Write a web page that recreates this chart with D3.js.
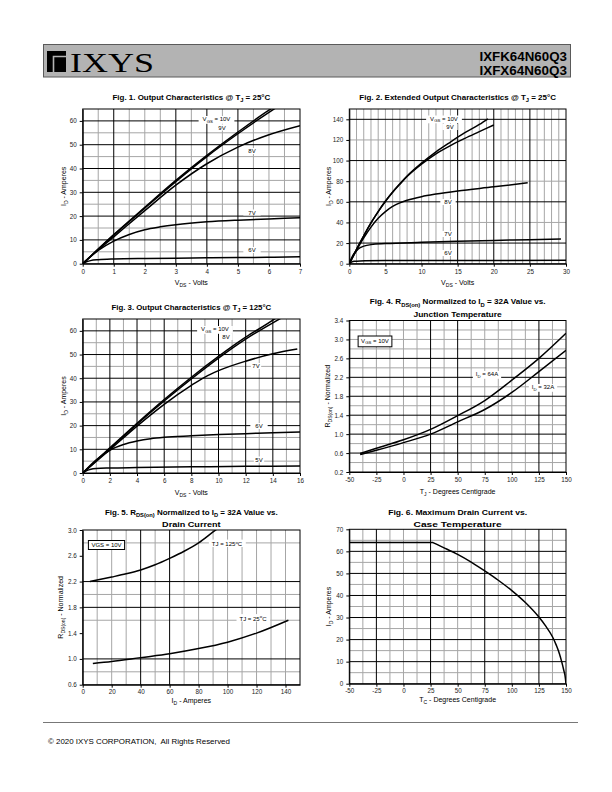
<!DOCTYPE html>
<html><head><meta charset="utf-8">
<script src="https://cdn.jsdelivr.net/npm/d3@7/dist/d3.min.js"></script>
<style>
body{margin:0;background:#fff}
svg{display:block}
text{font-family:"Liberation Sans",Arial,Helvetica,sans-serif}
</style>
</head><body>
<svg id="c" width="612" height="792"></svg>
<script>
// ---------------- DATA ----------------
// Fig 1: Output characteristics @ TJ=25C  [VDS (V), ID (A)]
const f1_vgs10 = [[0,0],[1,12.2],[2,23.7],[3,35],[4,45.5],[5,55.3],[6,64.5],[6.3,67]];
const f1_vgs9  = [[0,0],[1,12],[2,23.3],[3,34.5],[4,45],[5,54.6],[6,63.6],[6.4,67]];
const f1_vgs8  = [[0,0],[0.5,5.8],[1,11.3],[2,22.3],[3,33],[4,42],[5,49],[6,54.2],[7,58]];
const f1_vgs7  = [[0,0],[0.25,3],[0.5,5.6],[1,9.5],[1.5,12.3],[2,14.3],[2.5,15.5],[3,16.4],[4,17.6],[5,18.3],[6,18.8],[7,19.3]];
const f1_vgs6  = [[0,0],[0.1,0.7],[0.25,1.3],[0.5,1.7],[1,2],[2,2.2],[3,2.3],[4,2.45],[5,2.6],[6,2.7],[7,2.9]];
// Fig 2: Extended output characteristics @ TJ=25C
const f2_vgs10 = [[0,0],[1,14],[2,27],[3,39.5],[4,50.5],[5,60.5],[6,69.5],[7,77.5],[8,85],[10,97.5],[12,108.5],[14,118],[16,127],[18,135],[19.2,140.5]];
const f2_vgs9  = [[0,0],[1,14],[2,27],[3,39.5],[4,50.5],[5,60.5],[6,69.3],[7,77],[8,84.5],[10,96.5],[12,106.5],[14,114.5],[16,121.5],[18,128],[20,134.5]];
const f2_vgs8  = [[0,0],[1,13],[2,25],[3,35.5],[4,44],[5,50.5],[6,55.5],[7,59],[8,61.5],[10,65],[12,67.5],[15,70.5],[20,74.5],[24.7,78.5]];
const f2_vgs7  = [[0,0],[0.5,8],[1,12.5],[1.5,15.5],[2,17],[3,18.5],[5,19.5],[10,20.7],[15,21.7],[20,22.6],[25,23.3],[29.3,24]];
const f2_vgs6  = [[0,0],[0.3,1.5],[0.7,2.3],[1.5,2.7],[5,3],[10,3.1],[20,3.2],[30,3.3]];
// Fig 3: Output characteristics @ TJ=125C
const f3_vgs10 = [[0,0],[2,10.6],[4,21],[6,31],[8,40.4],[10,49.2],[12,57.3],[14,64.5],[14.5,66.5]];
const f3_vgs8  = [[0,0],[2,10.3],[4,20.6],[6,30.4],[8,39.7],[10,48.5],[12,56.5],[14,63.4],[14.8,66]];
const f3_vgs7  = [[0,0],[2,9.8],[4,19.8],[6,29],[8,37],[9,40.5],[10,43.2],[12,47.2],[14,50.3],[15.8,52.3]];
const f3_vgs6  = [[0,0],[1,5.6],[2,9.6],[3,12],[4,13.5],[5,14.5],[6,15.1],[8,15.7],[10,16.2],[12,16.6],[14,17],[16,17.3]];
const f3_vgs5  = [[0,0],[0.3,1],[0.6,1.6],[1,1.9],[2,2.1],[4,2.3],[8,2.6],[12,2.8],[16,3]];
// Fig 4: RDS(on) normalized vs TJ
const f4_id64 = [[-40,0.59],[-25,0.7],[0,0.88],[25,1.1],[50,1.39],[75,1.71],[100,2.14],[125,2.6],[150,3.13]];
const f4_id32 = [[-40,0.57],[-25,0.66],[0,0.82],[25,1.0],[50,1.26],[75,1.52],[100,1.88],[125,2.32],[150,2.77]];
// Fig 5: RDS(on) normalized vs ID
const f5_tj125 = [[5,2.2],[20,2.27],[30,2.32],[40,2.38],[50,2.46],[60,2.56],[70,2.67],[80,2.8],[90,2.97],[93,3.02]];
const f5_tj25  = [[7,0.93],[20,0.96],[40,1.02],[60,1.08],[80,1.16],[100,1.26],[120,1.4],[142,1.6]];
// Fig 6: Max drain current vs TC (flat to the knee, then curve)
const f6_id = [[-50,64],[27,64],[37.5,61.6],[50,58.6],[62.5,55.1],[75,51.1],[87.5,46.9],[100,42.2],[112.5,36.8],[125,30.2],[131,26.3],[137.5,21.3],[141,17.5],[144,13.5],[146,10],[148,6],[149.3,3],[150,0]];

// Ticks
const f1_xTicks = [0,1,2,3,4,5,6,7], f1_yTicks = [0,10,20,30,40,50,60];
const f2_xTicks = [0,5,10,15,20,25,30], f2_yTicks = [0,20,40,60,80,100,120,140];
const f3_xTicks = [0,2,4,6,8,10,12,14,16], f3_yTicks = [0,10,20,30,40,50,60];
const f4_xTicks = [-50,-25,0,25,50,75,100,125,150], f4_yTicks = [0.2,0.6,1.0,1.4,1.8,2.2,2.6,3.0,3.4];
const f5_xTicks = [0,20,40,60,80,100,120,140], f5_yTicks = [0.6,1.0,1.4,1.8,2.2,2.6,3.0];
const f6_xTicks = [-50,-25,0,25,50,75,100,125,150], f6_yTicks = [0,10,20,30,40,50,60,70];

// Grid lines (minor = gray, major = black)
const f1_xMinor = d3.range(0.5,7,0.5), f1_xMajor = [1,3,4,5];
const f1_yMinor = d3.range(5,65,5),    f1_yMajor = [10,20,30,40,50,60];
const f2_xMinor = d3.range(1,30,1),    f2_xMajor = [15,20,25];
const f2_yMinor = [40,80,120],         f2_yMajor = [20,60,100,140];
const f3_xMinor = d3.range(1,16,1),    f3_xMajor = [2,4,6,8,10,12,14];
const f3_yMinor = d3.range(5,65,5),    f3_yMajor = [10,20,30,40,50,60];
const f4_xMinor = d3.range(-37.5,150,12.5), f4_xMajor = [25,50,125];
const f4_yMinor = [0.4,0.8,1.2,1.6,2.0,2.4,2.8,3.0,3.2], f4_yMajor = [0.6,1.0,1.4,1.8,2.2,2.6];
const f5_xMinor = d3.range(10,150,10), f5_xMajor = [40,60];
const f5_yMinor = [0.8,1.6,2.0,2.8], f5_yMajor = [1.0,1.8,2.2];
const f6_xMinor = d3.range(-37.5,150,12.5), f6_xMajor = [-25,25,75,125];
const f6_yMinor = [5,15,25,35,45,55,65], f6_yMajor = [10,20,30,40,50,60];

// ---------------- HELPERS ----------------
const svg = d3.select("#c");
const plain = d => String(d);
const oneDec = d => d.toFixed(1);

function rich(parent, parts, size, x, y, anchor){
  const t = parent.append("text").attr("font-size", size).attr("x", x).attr("y", y)
    .attr("text-anchor", anchor || "middle").attr("fill", "#000");
  let shift = 0;
  parts.forEach(p => {
    let s = p, type = null;
    if (Array.isArray(p)) { s = p[0]; type = p[1]; }
    const ts = t.append("tspan").text(s);
    const target = type === 'sub' ? size*0.3 : type === 'sup' ? -size*0.4 : 0;
    if (type) ts.attr("font-size", size*0.72);
    if (target !== shift) { ts.attr("dy", target - shift); shift = target; }
  });
  return t;
}
function fitWidth(t, w, cx){
  const bb = t.node().getBBox();
  if (bb.width > 0){
    const s = w / bb.width;
    t.attr("transform", `translate(${cx},0) scale(${s},1) translate(${-cx},0)`);
  }
}

function chart(o){
  const g = svg.append("g");
  const x = d3.scaleLinear().domain(o.xd).range([o.l, o.r]);
  const y = d3.scaleLinear().domain(o.yd).range([o.b, o.t]);
  const grid = g.append("g");
  grid.selectAll(".vx").data(o.xMinor.filter(v => !o.xMajor.includes(v))).join("line")
    .attr("x1", d => x(d)).attr("x2", d => x(d)).attr("y1", o.t).attr("y2", o.b)
    .attr("stroke", "#a6a6a6").attr("stroke-width", 1);
  grid.selectAll(".hy").data(o.yMinor.filter(v => !o.yMajor.includes(v))).join("line")
    .attr("y1", d => y(d)).attr("y2", d => y(d)).attr("x1", o.l).attr("x2", o.r)
    .attr("stroke", "#a6a6a6").attr("stroke-width", 1);
  grid.selectAll(".vX").data(o.xMajor).join("line")
    .attr("x1", d => x(d)).attr("x2", d => x(d)).attr("y1", o.t).attr("y2", o.b)
    .attr("stroke", "#000").attr("stroke-width", 1);
  grid.selectAll(".hY").data(o.yMajor).join("line")
    .attr("y1", d => y(d)).attr("y2", d => y(d)).attr("x1", o.l).attr("x2", o.r)
    .attr("stroke", "#000").attr("stroke-width", 1);
  g.append("rect").attr("x", o.l).attr("y", o.t).attr("width", o.r - o.l).attr("height", o.b - o.t)
    .attr("fill", "none").attr("stroke", "#000").attr("stroke-width", 1);
  const fx = o.xFmt || plain, fy = o.yFmt || plain;
  const ax = g.append("g").attr("transform", `translate(0,${o.b})`)
    .call(d3.axisBottom(x).tickValues(o.xTicks).tickSize(3).tickSizeOuter(0).tickPadding(o.xPad || 3).tickFormat(fx));
  const ay = g.append("g").attr("transform", `translate(${o.l},0)`)
    .call(d3.axisLeft(y).tickValues(o.yTicks).tickSize(3).tickSizeOuter(0).tickPadding(3).tickFormat(fy));
  [ax, ay].forEach(a => {
    a.select(".domain").attr("stroke", "#000");
    a.selectAll("text").attr("font-size", 6.3).attr("fill", "#222");
    a.selectAll("line").attr("stroke", "#000");
  });
  const boxes = g.append("g");
  const clipId = "clip" + o.id;
  g.append("clipPath").attr("id", clipId).append("rect")
    .attr("x", o.l).attr("y", o.t).attr("width", o.r - o.l).attr("height", o.b - o.t);
  const smooth = d3.line().x(d => x(d[0])).y(d => y(d[1])).curve(d3.curveMonotoneX);
  const straight = d3.line().x(d => x(d[0])).y(d => y(d[1]));
  const cg = g.append("g").attr("clip-path", `url(#${clipId})`);
  o.series.forEach(s => {
    let d;
    if (o.knee) d = straight(s.slice(0, 2)) + smooth(s.slice(1)).replace(/^M/, "L");
    else d = smooth(s);
    cg.append("path").attr("d", d).attr("fill", "none").attr("stroke", "#000").attr("stroke-width", 1.5);
  });
  const cx = (o.l + o.r) / 2;
  o.title.forEach(tl => {
    const t = rich(g, tl.parts, 8, cx, tl.y).attr("font-weight", "bold");
    fitWidth(t, tl.w, cx);
  });
  rich(g, o.xLabel, 7, cx, o.b + (o.xlOff || 21.5));
  rich(g, o.yLabel, 7, 0, 0).attr("transform", `translate(${o.l - (o.ylOff || 17)},${(o.t + o.b)/2}) rotate(-90)`);
  o.notes.forEach(n => {
    const t = rich(g, n.parts, n.size || 6, n.x, n.y, n.anchor || "middle");
    const bb = t.node().getBBox();
    if (n.bg) {
      const p = n.pad == null ? 1.5 : n.pad;
      boxes.append("rect").attr("x", bb.x - p).attr("y", bb.y).attr("width", bb.width + 2*p)
        .attr("height", bb.height).attr("fill", "#fff");
    }
    if (n.frame) {
      boxes.append("rect").attr("x", bb.x - 3).attr("y", bb.y - 1.5).attr("width", bb.width + 6)
        .attr("height", bb.height + 3).attr("fill", "#fff").attr("stroke", "#000").attr("stroke-width", 1);
    }
  });
  return {x, y};
}

// ---------------- HEADER ----------------
svg.append("rect").attr("x", 43.5).attr("y", 44.5).attr("width", 527).attr("height", 32.5)
  .attr("fill", "#b3b3b3").attr("stroke", "#5a5a5a").attr("stroke-width", 1);
svg.append("rect").attr("x", 47).attr("y", 51).attr("width", 19).attr("height", 21).attr("fill", "#000");
svg.append("path").attr("d", "M53.5,72 V56.5 H66").attr("fill", "none").attr("stroke", "#b3b3b3").attr("stroke-width", 1.6);
const logo = svg.append("text").attr("x", 70).attr("y", 72)
  .style("font-family", '"Liberation Serif","DejaVu Serif","Times New Roman",serif')
  .attr("font-size", 28).attr("fill", "#000").text("IXYS");
fitWidth(logo, 84, 70);
const p1 = svg.append("text").attr("x", 567).attr("y", 61.5).attr("text-anchor", "end").attr("font-weight", "bold")
  .attr("font-size", 12).text("IXFK64N60Q3");
const p2 = svg.append("text").attr("x", 567).attr("y", 75).attr("text-anchor", "end").attr("font-weight", "bold")
  .attr("font-size", 12).text("IXFX64N60Q3");
fitWidth(p1, 88, 567); fitWidth(p2, 88, 567);

// ---------------- CHARTS ----------------
chart({id:1, l:82.7, r:300, t:109, b:263.7, xd:[0,7], yd:[0,65],
  xTicks:f1_xTicks, yTicks:f1_yTicks, xMinor:f1_xMinor, xMajor:f1_xMajor, yMinor:f1_yMinor, yMajor:f1_yMajor,
  series:[f1_vgs10, f1_vgs9, f1_vgs8, f1_vgs7, f1_vgs6],
  title:[{parts:["Fig. 1. Output Characteristics @ T",["J","sub"]," = 25°C"], y:100, w:158}],
  xLabel:["V",["DS","sub"]," - Volts"], yLabel:["I",["D","sub"]," - Amperes"],
  notes:[
    {parts:["V",["GS","sub"]," = 10V"], x:216.5, y:121, bg:true, pad:4},
    {parts:["9V"], x:222, y:129.5, bg:true},
    {parts:["8V"], x:252, y:153, bg:true},
    {parts:["7V"], x:252, y:214.5, bg:true, pad:5},
    {parts:["6V"], x:252, y:252, bg:true, pad:5}
  ]});

chart({id:2, l:349.3, r:566, t:109, b:263.7, xd:[0,30], yd:[0,150], ylOff:18,
  xTicks:f2_xTicks, yTicks:f2_yTicks, xMinor:f2_xMinor, xMajor:f2_xMajor, yMinor:f2_yMinor, yMajor:f2_yMajor,
  series:[f2_vgs10, f2_vgs9, f2_vgs8, f2_vgs7, f2_vgs6],
  title:[{parts:["Fig. 2. Extended Output Characteristics @ T",["J","sub"]," = 25°C"], y:100, w:197}],
  xLabel:["V",["DS","sub"]," - Volts"], yLabel:["I",["D","sub"]," - Amperes"],
  notes:[
    {parts:["V",["GS","sub"]," = 10V"], x:444, y:120.5, bg:true, pad:4},
    {parts:["9V"], x:450, y:129, bg:true, pad:4},
    {parts:["8V"], x:448, y:204, bg:true, pad:4},
    {parts:["7V"], x:448, y:236, bg:true, pad:4},
    {parts:["6V"], x:448, y:255, bg:true, pad:4}
  ]});

chart({id:3, l:82.7, r:300, t:319, b:473, xd:[0,16], yd:[0,65],
  xTicks:f3_xTicks, yTicks:f3_yTicks, xMinor:f3_xMinor, xMajor:f3_xMajor, yMinor:f3_yMinor, yMajor:f3_yMajor,
  series:[f3_vgs10, f3_vgs8, f3_vgs7, f3_vgs6, f3_vgs5],
  title:[{parts:["Fig. 3. Output Characteristics @ T",["J","sub"]," = 125°C"], y:310, w:160}],
  xLabel:["V",["DS","sub"]," - Volts"], yLabel:["I",["D","sub"]," - Amperes"],
  notes:[
    {parts:["V",["GS","sub"]," = 10V"], x:215, y:331, bg:true, pad:4},
    {parts:["8V"], x:226, y:339, bg:true, pad:3},
    {parts:["7V"], x:256, y:368, bg:true},
    {parts:["6V"], x:259, y:428, bg:true, pad:5},
    {parts:["5V"], x:259, y:461.5, bg:true}
  ]});

chart({id:4, l:349.3, r:566, t:320.5, b:472, xd:[-50,150], yd:[0.2,3.4], ylOff:19.5,
  xTicks:f4_xTicks, yTicks:f4_yTicks, xMinor:f4_xMinor, xMajor:f4_xMajor, yMinor:f4_yMinor, yMajor:f4_yMajor,
  yFmt:oneDec,
  series:[f4_id64, f4_id32],
  title:[{parts:["Fig. 4. R",["DS(on)","sub"]," Normalized to I",["D","sub"]," = 32A Value vs."], y:304.5, w:176},
         {parts:["Junction Temperature"], y:317, w:89}],
  xLabel:["T",["J","sub"]," - Degrees Centigrade"], yLabel:["R",["DS(on)","sub"]," - Normalized"],
  notes:[
    {parts:["V",["GS","sub"]," = 10V"], x:375, y:342.5, frame:true},
    {parts:["I",["D","sub"]," = 64A"], x:487, y:376, bg:true, pad:3},
    {parts:["I",["D","sub"]," = 32A"], x:543, y:389, bg:true, pad:3}
  ]});

chart({id:5, l:82.7, r:300, t:530, b:684.7, xd:[0,150], yd:[0.6,3.0], ylOff:19.5, xlOff:18, xPad:2,
  xTicks:f5_xTicks, yTicks:f5_yTicks, xMinor:f5_xMinor, xMajor:f5_xMajor, yMinor:f5_yMinor, yMajor:f5_yMajor,
  yFmt:oneDec,
  series:[f5_tj125, f5_tj25],
  title:[{parts:["Fig. 5. R",["DS(on)","sub"]," Normalized to I",["D","sub"]," = 32A Value vs."], y:515, w:173},
         {parts:["Drain Current"], y:527, w:59}],
  xLabel:["I",["D","sub"]," - Amperes"], yLabel:["R",["DS(on)","sub"]," - Normalized"],
  notes:[
    {parts:["VGS = 10V"], x:106.5, y:547, frame:true},
    {parts:["TJ = 125",["o","sup"],"C"], x:227, y:546, bg:true, pad:3},
    {parts:["TJ = 25",["o","sup"],"C"], x:253, y:620.5, bg:true, pad:3}
  ]});

chart({id:6, l:349.3, r:566, t:529.3, b:683.7, xd:[-50,150], yd:[0,70], ylOff:18, xlOff:18, xPad:2, knee:true,
  xTicks:f6_xTicks, yTicks:f6_yTicks, xMinor:f6_xMinor, xMajor:f6_xMajor, yMinor:f6_yMinor, yMajor:f6_yMajor,
  series:[f6_id],
  title:[{parts:["Fig. 6. Maximum Drain Current vs."], y:515, w:139},
         {parts:["Case Temperature"], y:527, w:89}],
  xLabel:["T",["C","sub"]," - Degrees Centigrade"], yLabel:["I",["D","sub"]," - Amperes"],
  notes:[]});

// ---------------- FOOTER ----------------
svg.append("line").attr("x1", 43).attr("x2", 578).attr("y1", 722.5).attr("y2", 722.5)
  .attr("stroke", "#777").attr("stroke-width", 1);
const ft = svg.append("text").attr("x", 48).attr("y", 744).attr("font-size", 7.6).attr("fill", "#000")
  .style("white-space", "pre").text("© 2020 IXYS CORPORATION,  All Rights Reserved");
fitWidth(ft, 182, 48);
</script>
</body></html>
